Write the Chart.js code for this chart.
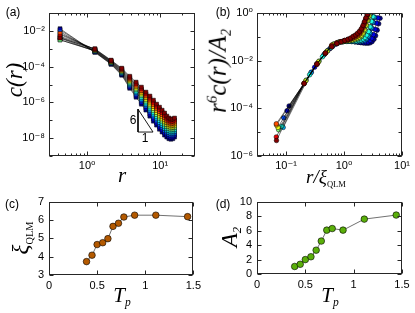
<!DOCTYPE html>
<html><head><meta charset="utf-8">
<script src="https://cdn.jsdelivr.net/npm/chart.js@4.4.1/dist/chart.umd.min.js"></script>
<style>
html,body{margin:0;padding:0;background:#fff;}
#wrap{position:relative;width:415px;height:313px;overflow:hidden;background:#fff;}
canvas{position:absolute;}
.t{position:absolute;white-space:nowrap;transform:translate(-50%,-50%);font-family:"Liberation Serif","DejaVu Serif",serif;font-style:italic;color:#000;line-height:1;}
.rot{transform:translate(-50%,-50%) rotate(-90deg);}
.p{position:absolute;white-space:nowrap;font-family:"Liberation Sans",Arial,sans-serif;font-size:12px;color:#000;transform:translate(-50%,-50%);line-height:1;}
.sb{font-size:0.55em;vertical-align:-0.35em;}
.sbq{font-size:0.45em;vertical-align:-0.45em;font-style:normal;}
.sp{font-size:0.6em;vertical-align:0.6em;}
</style></head><body>
<div id="wrap">
<canvas id="ca" width="205" height="190" style="left:0;top:0;width:205px;height:190px"></canvas>
<canvas id="cb" width="210" height="190" style="left:205px;top:0;width:210px;height:190px"></canvas>
<canvas id="cc" width="205" height="123" style="left:0;top:190px;width:205px;height:123px"></canvas>
<canvas id="cd" width="210" height="123" style="left:205px;top:190px;width:210px;height:123px"></canvas>
<div class="p" style="left:13px;top:12px">(a)</div>
<div class="p" style="left:223px;top:12px">(b)</div>
<div class="p" style="left:12px;top:204px">(c)</div>
<div class="p" style="left:223px;top:204px">(d)</div>
<div class="p" style="left:133px;top:120px">6</div>
<div class="p" style="left:145px;top:138px">1</div>
<div class="t rot" style="left:14px;top:80px;font-size:23px">c(r)</div>
<div class="t" style="left:122px;top:175px;font-size:21px">r</div>
<div class="t rot" style="left:219px;top:71px;font-size:25px">r<span class="sp">6</span>c(r)/A<span class="sb">2</span></div>
<div class="t" style="left:326px;top:178px;font-size:19px">r/ξ<span class="sbq">QLM</span></div>
<div class="t rot" style="left:22px;top:238px;font-size:23px">ξ<span class="sbq">QLM</span></div>
<div class="t rot" style="left:231px;top:237px;font-size:23px">A<span class="sb">2</span></div>
<div class="t" style="left:122px;top:297px;font-size:21px">T<span class="sb">p</span></div>
<div class="t" style="left:330px;top:297px;font-size:21px">T<span class="sb">p</span></div>
</div>
<script>
// ---------- data ----------
const r = [0.425, 1.275, 2.125, 2.975, 3.825, 4.675, 5.525, 6.375, 7.225, 8.075, 8.925, 9.775, 10.625, 11.475, 12.325, 13.175, 14.025, 14.875, 15.725];
const Tp = [0.39, 0.447, 0.50, 0.558, 0.612, 0.665, 0.722, 0.778, 0.89, 1.11, 1.44];
const xiQLM = [3.73, 4.08, 4.66, 4.76, 4.98, 5.65, 5.82, 6.16, 6.26, 6.26, 6.18];
const A2 = [1.04, 1.34, 1.99, 2.38, 3.29, 4.55, 6.06, 6.28, 6.06, 7.58, 8.14];

// panel (a): c(r) for each Tp
const c0 = [1.32e-2, 6.31e-4, 1.35e-4, 3.31e-5, 6.17e-6, 1.95e-6, 7.94e-7, 3.72e-7, 1.70e-7, 8.91e-8, 5.37e-8, 3.16e-8, 2.19e-8, 1.48e-8, 1.15e-8, 9.33e-9, 8.71e-9, 9.33e-9, 1.15e-8];
const c1 = [1.12e-2, 6.61e-4, 1.42e-4, 3.62e-5, 7.19e-6, 2.37e-6, 9.89e-7, 4.68e-7, 2.20e-7, 1.17e-7, 7.03e-8, 4.20e-8, 2.90e-8, 1.96e-8, 1.50e-8, 1.22e-8, 1.13e-8, 1.20e-8, 1.47e-8];
const c2 = [8.91e-3, 6.92e-4, 1.50e-4, 3.96e-5, 8.39e-6, 2.87e-6, 1.23e-6, 5.89e-7, 2.84e-7, 1.53e-7, 9.20e-8, 5.57e-8, 3.84e-8, 2.61e-8, 1.97e-8, 1.58e-8, 1.46e-8, 1.54e-8, 1.87e-8];
const c3 = [3.98e-3, 7.24e-4, 1.58e-4, 4.34e-5, 9.79e-6, 3.48e-6, 1.53e-6, 7.41e-7, 3.68e-7, 2.00e-7, 1.21e-7, 7.40e-8, 5.08e-8, 3.46e-8, 2.58e-8, 2.07e-8, 1.89e-8, 1.98e-8, 2.39e-8];
const c4 = [3.16e-3, 7.59e-4, 1.67e-4, 4.74e-5, 1.14e-5, 4.23e-6, 1.91e-6, 9.33e-7, 4.76e-7, 2.62e-7, 1.58e-7, 9.82e-8, 6.73e-8, 4.59e-8, 3.37e-8, 2.69e-8, 2.44e-8, 2.55e-8, 3.05e-8];
const c5 = [3.16e-3, 7.94e-4, 1.76e-4, 5.19e-5, 1.33e-5, 5.13e-6, 2.37e-6, 1.17e-6, 6.17e-7, 3.43e-7, 2.07e-7, 1.30e-7, 8.91e-8, 6.10e-8, 4.42e-8, 3.51e-8, 3.16e-8, 3.27e-8, 3.89e-8];
const c6 = [4.47e-3, 8.32e-4, 1.85e-4, 5.68e-5, 1.56e-5, 6.22e-6, 2.95e-6, 1.48e-6, 7.98e-7, 4.49e-7, 2.70e-7, 1.73e-7, 1.18e-7, 8.09e-8, 5.78e-8, 4.57e-8, 4.09e-8, 4.21e-8, 4.97e-8];
const c7 = [6.31e-3, 8.71e-4, 1.95e-4, 6.21e-5, 1.82e-5, 7.55e-6, 3.67e-6, 1.86e-6, 1.03e-6, 5.87e-7, 3.54e-7, 2.30e-7, 1.56e-7, 1.07e-7, 7.57e-8, 5.96e-8, 5.30e-8, 5.41e-8, 6.34e-8];
const c8 = [7.08e-3, 9.12e-4, 2.06e-4, 6.79e-5, 2.12e-5, 9.16e-6, 4.57e-6, 2.34e-6, 1.34e-6, 7.69e-7, 4.63e-7, 3.05e-7, 2.07e-7, 1.43e-7, 9.91e-8, 7.76e-8, 6.85e-8, 6.95e-8, 8.09e-8];
const c9 = [5.01e-3, 9.55e-4, 2.17e-4, 7.43e-5, 2.47e-5, 1.11e-5, 5.69e-6, 2.95e-6, 1.73e-6, 1.01e-6, 6.07e-7, 4.05e-7, 2.74e-7, 1.89e-7, 1.30e-7, 1.01e-7, 8.87e-8, 8.93e-8, 1.03e-7];
const c10 = [3.98e-3, 1.00e-3, 2.29e-4, 8.13e-5, 2.88e-5, 1.35e-5, 7.08e-6, 3.72e-6, 2.24e-6, 1.32e-6, 7.94e-7, 5.37e-7, 3.63e-7, 2.51e-7, 1.70e-7, 1.32e-7, 1.15e-7, 1.15e-7, 1.32e-7];

// slope-6 guide triangle in panel (a), data units (r, c)
const slopeTriR = [4.97, 4.97, 7.98, 4.97];
const slopeTriC = [4.17e-7, 2.19e-8, 2.19e-8, 4.17e-7];

// panel (b): x = r / xi_QLM for each xi
const xb0 = [0.113, 0.340, 0.567, 0.793, 1.02, 1.25, 1.47, 1.70, 1.93, 2.15, 2.38, 2.61, 2.83, 3.06, 3.29, 3.51, 3.74, 3.97, 4.19];
const xb1 = [0.104, 0.311, 0.518, 0.726, 0.933, 1.14, 1.35, 1.56, 1.76, 1.97, 2.18, 2.38, 2.59, 2.80, 3.01, 3.21, 3.42, 3.63, 3.84];
const xb2 = [0.0914, 0.274, 0.457, 0.640, 0.823, 1.01, 1.19, 1.37, 1.55, 1.74, 1.92, 2.10, 2.29, 2.47, 2.65, 2.83, 3.02, 3.20, 3.38];
const xb3 = [0.0895, 0.268, 0.447, 0.626, 0.805, 0.984, 1.16, 1.34, 1.52, 1.70, 1.88, 2.06, 2.24, 2.42, 2.60, 2.77, 2.95, 3.13, 3.31];
const xb4 = [0.085, 0.255, 0.425, 0.595, 0.765, 0.935, 1.11, 1.28, 1.45, 1.62, 1.79, 1.96, 2.13, 2.30, 2.47, 2.64, 2.81, 2.98, 3.15];
const xb5 = [0.0746, 0.224, 0.373, 0.522, 0.671, 0.820, 0.969, 1.12, 1.27, 1.42, 1.57, 1.72, 1.86, 2.01, 2.16, 2.31, 2.46, 2.61, 2.76];
const xb6 = [0.0727, 0.218, 0.363, 0.509, 0.654, 0.799, 0.944, 1.09, 1.24, 1.38, 1.53, 1.67, 1.82, 1.96, 2.11, 2.25, 2.40, 2.54, 2.69];
const xb7 = [0.0685, 0.206, 0.343, 0.480, 0.617, 0.754, 0.891, 1.03, 1.17, 1.30, 1.44, 1.58, 1.71, 1.85, 1.99, 2.13, 2.26, 2.40, 2.54];
const xb8 = [0.068, 0.204, 0.340, 0.476, 0.612, 0.748, 0.884, 1.02, 1.16, 1.29, 1.43, 1.56, 1.70, 1.84, 1.97, 2.11, 2.24, 2.38, 2.52];

// panel (b): y = r^6 c(r) / A2
const yb0 = [1.26e-4, 7.14e-3, 3.14e-2, 5.61e-2, 6.76e-2, 6.92e-2, 6.61e-2, 6.17e-2, 5.75e-2, 5.50e-2, 5.37e-2, 5.37e-2, 5.62e-2, 6.31e-2, 7.94e-2, 1.12e-1, 1.91e-1, 3.55e-1, 6.03e-1];
const yb1 = [7.94e-5, 5.28e-3, 2.58e-2, 4.91e-2, 6.38e-2, 6.73e-2, 6.56e-2, 6.25e-2, 5.94e-2, 5.77e-2, 5.74e-2, 5.82e-2, 6.17e-2, 6.97e-2, 8.79e-2, 1.24e-1, 2.07e-1, 3.76e-1, 6.27e-1];
const yb2 = [3.98e-5, 3.32e-3, 1.82e-2, 4.06e-2, 6.03e-2, 6.53e-2, 6.52e-2, 6.34e-2, 6.14e-2, 6.05e-2, 6.14e-2, 6.31e-2, 6.76e-2, 7.69e-2, 9.72e-2, 1.37e-1, 2.25e-1, 3.98e-1, 6.52e-1];
const yb3 = [1.58e-5, 3.07e-3, 1.71e-2, 3.92e-2, 5.69e-2, 6.35e-2, 6.47e-2, 6.43e-2, 6.34e-2, 6.35e-2, 6.56e-2, 6.84e-2, 7.41e-2, 8.49e-2, 1.08e-1, 1.51e-1, 2.44e-1, 4.22e-1, 6.78e-1];
const yb4 = [1.78e-5, 2.54e-3, 1.46e-2, 3.50e-2, 5.37e-2, 6.17e-2, 6.43e-2, 6.52e-2, 6.55e-2, 6.67e-2, 7.01e-2, 7.41e-2, 8.13e-2, 9.38e-2, 1.19e-1, 1.67e-1, 2.65e-1, 4.47e-1, 7.05e-1];
const yb5 = [1.26e-5, 1.54e-3, 9.68e-3, 2.62e-2, 5.07e-2, 6.00e-2, 6.38e-2, 6.61e-2, 6.76e-2, 7.00e-2, 7.50e-2, 8.04e-2, 8.91e-2, 1.04e-1, 1.32e-1, 1.84e-1, 2.88e-1, 4.73e-1, 7.33e-1];
const yb6 = [1.58e-5, 1.40e-3, 8.89e-3, 2.48e-2, 4.79e-2, 5.83e-2, 6.34e-2, 6.70e-2, 6.98e-2, 7.35e-2, 8.02e-2, 8.71e-2, 9.77e-2, 1.14e-1, 1.46e-1, 2.03e-1, 3.13e-1, 5.01e-1, 7.62e-1];
const yb7 = [2.00e-5, 1.12e-3, 7.33e-3, 2.10e-2, 4.52e-2, 5.66e-2, 6.30e-2, 6.79e-2, 7.21e-2, 7.71e-2, 8.57e-2, 9.44e-2, 1.07e-1, 1.26e-1, 1.61e-1, 2.24e-1, 3.40e-1, 5.31e-1, 7.93e-1];
const yb8 = [2.24e-5, 1.09e-3, 7.14e-3, 2.06e-2, 4.27e-2, 5.51e-2, 6.25e-2, 6.89e-2, 7.45e-2, 8.09e-2, 9.16e-2, 1.02e-1, 1.17e-1, 1.39e-1, 1.79e-1, 2.48e-1, 3.70e-1, 5.62e-1, 8.24e-1];
const yb9 = [6.31e-6, 1.09e-3, 7.14e-3, 2.06e-2, 4.03e-2, 5.35e-2, 6.21e-2, 6.98e-2, 7.69e-2, 8.49e-2, 9.79e-2, 1.11e-1, 1.29e-1, 1.54e-1, 1.98e-1, 2.74e-1, 4.02e-1, 5.96e-1, 8.57e-1];
const yb10 = [4.47e-6, 1.12e-3, 7.33e-3, 2.10e-2, 3.80e-2, 5.20e-2, 6.17e-2, 7.08e-2, 7.94e-2, 8.91e-2, 1.05e-1, 1.20e-1, 1.41e-1, 1.70e-1, 2.19e-1, 3.02e-1, 4.37e-1, 6.31e-1, 8.91e-1];

// tick labels
const ticksXa = [1, 10];
const ticksYa = [1e-8, 1e-6, 1e-4, 1e-2];
const ticksXb = [0.1, 1, 10];
const ticksYb = [1e-6, 1e-4, 1e-2, 1];
const ticksTp = [0, 0.5, 1, 1.5];
const ticksXi = [3, 4, 5, 6, 7];
const ticksA2 = [0, 2, 4, 6, 8, 10];

// ---------- styling / assembly ----------
const cSeries = [c0, c1, c2, c3, c4, c5, c6, c7, c8, c9, c10];
const xbSeries = [xb0, xb1, xb2, xb3, xb4, xb5, xb6, xb7, xb8, xb8, xb7];
const ybSeries = [yb0, yb1, yb2, yb3, yb4, yb5, yb6, yb7, yb8, yb9, yb10];
const jet = ['rgb(0,0,143)','rgb(0,0,230)','rgb(0,77,255)','rgb(0,179,255)','rgb(26,255,230)','rgb(128,255,128)','rgb(230,255,26)','rgb(255,179,0)','rgb(255,77,0)','rgb(230,0,0)','rgb(128,0,0)'];

const SUP = {'-':'\u207B','0':'\u2070','1':'\u00B9','2':'\u00B2','3':'\u00B3','4':'\u2074','5':'\u2075','6':'\u2076','7':'\u2077','8':'\u2078','9':'\u2079'};
function powLabel(v){ const e = Math.round(Math.log10(v)); return '10' + String(e).split('').map(ch => SUP[ch]).join(''); }

const tickFont = {family:'"Liberation Sans", Arial, "DejaVu Sans", sans-serif', size:11};

function logAxis(min, max, ticks, fitKey, fitVal, pad){
  return {
    type:'logarithmic', min:min, max:max,
    afterBuildTicks: s => { s.ticks = ticks.map(v => ({value:v})); },
    afterFit: s => { s[fitKey] = fitVal; },
    ticks:{callback: v => powLabel(v), font:tickFont, color:'#000', padding:pad, autoSkip:false, maxRotation:0, minRotation:0},
    grid:{display:false, drawTicks:false}, border:{display:false}
  };
}
function linAxis(min, max, ticks, fitKey, fitVal, pad){
  return {
    type:'linear', min:min, max:max,
    afterBuildTicks: s => { s.ticks = ticks.map(v => ({value:v})); },
    afterFit: s => { s[fitKey] = fitVal; },
    ticks:{callback: v => String(v), font:tickFont, color:'#000', padding:pad, autoSkip:false, maxRotation:0, minRotation:0},
    grid:{display:false, drawTicks:false}, border:{display:false}
  };
}

const frame = {
  id:'frame',
  afterDatasetsDraw(chart){
    const {ctx, chartArea:a, scales} = chart;
    const L = Math.round(a.left)+0.5, R = Math.round(a.right)-0.5, T = Math.round(a.top)+0.5, B = Math.round(a.bottom)-0.5;
    ctx.save();
    ctx.strokeStyle = '#262626'; ctx.lineWidth = 1;
    ctx.beginPath();
    const xs = scales.x, ys = scales.y;
    function tickX(v, len){ const p = Math.round(xs.getPixelForValue(v))+0.5; ctx.moveTo(p,B); ctx.lineTo(p,B-len); ctx.moveTo(p,T); ctx.lineTo(p,T+len); }
    function tickY(v, len){ const p = Math.round(ys.getPixelForValue(v))+0.5; ctx.moveTo(L,p); ctx.lineTo(L+len,p); ctx.moveTo(R,p); ctx.lineTo(R-len,p); }
    xs.ticks.forEach(t => tickX(t.value, 4));
    ys.ticks.forEach(t => tickY(t.value, 4));
    if (xs.type === 'logarithmic'){
      for (let d = Math.floor(Math.log10(xs.min)); d <= Math.ceil(Math.log10(xs.max)); d++){
        for (let m = 2; m <= 9; m++){ const v = m*Math.pow(10,d); if (v > xs.min && v < xs.max) tickX(v, 2); }
      }
    }
    if (ys.type === 'logarithmic'){
      for (let d = Math.ceil(Math.log10(ys.min)); d <= Math.floor(Math.log10(ys.max)); d++){
        const v = Math.pow(10,d); tickY(v, 3);
      }
    }
    ctx.stroke();
    ctx.strokeRect(L, T, R-L, B-T);
    ctx.restore();
  }
};

Chart.defaults.animation = false;
const basePlugins = {legend:{display:false}, tooltip:{enabled:false}};

// (a)
const dsA = cSeries.map((cs, i) => ({
  data: r.map((x, k) => ({x:x, y:cs[k]})),
  showLine:true, borderColor:'rgba(0,0,0,0.9)', borderWidth:0.6,
  pointStyle:'rect', pointRadius:2.8, pointBackgroundColor:jet[i], pointBorderColor:'#000', pointBorderWidth:0.5,
  order: 10 - i
}));
dsA.push({
  data: slopeTriR.map((x, k) => ({x:x, y:slopeTriC[k]})),
  showLine:true, borderColor:'#000', borderWidth:0.9, pointRadius:0, order:-1
});
new Chart(document.getElementById('ca'), {
  type:'scatter',
  data:{datasets: dsA},
  options:{
    responsive:false, animation:false,
    layout:{padding:{left:0, right:10, top:13, bottom:0}},
    scales:{ x: logAxis(0.3, 30, ticksXa, 'height', 34, 3), y: logAxis(1e-9, 1e-1, ticksYa, 'width', 49, 4) },
    plugins: basePlugins
  },
  plugins:[frame]
});

// (b)
new Chart(document.getElementById('cb'), {
  type:'scatter',
  data:{datasets: ybSeries.map((ys, i) => ({
    data: xbSeries[i].map((x, k) => ({x:x, y:ys[k]})),
    showLine:true, borderColor:'rgba(0,0,0,0.9)', borderWidth:0.6,
    pointStyle:'circle', pointRadius:2.3, pointBackgroundColor:jet[i], pointBorderColor:'#000', pointBorderWidth:0.5,
    order: 10 - i
  }))},
  options:{
    responsive:false, animation:false,
    layout:{padding:{left:0, right:13, top:13, bottom:0}},
    scales:{ x: logAxis(Math.pow(10,-1.5), 10, ticksXb, 'height', 34, 3), y: logAxis(1e-6, 1, ticksYb, 'width', 52, 4) },
    plugins: basePlugins
  },
  plugins:[frame]
});

// (c)
new Chart(document.getElementById('cc'), {
  type:'scatter',
  data:{datasets:[{
    data: Tp.map((t, k) => ({x:t, y:xiQLM[k]})),
    showLine:true, borderColor:'#4d4d4d', borderWidth:0.8,
    pointStyle:'circle', pointRadius:3.3, pointBackgroundColor:'rgb(179,89,0)', pointBorderColor:'#000', pointBorderWidth:0.6
  }]},
  options:{
    responsive:false, animation:false,
    layout:{padding:{left:0, right:9, top:7, bottom:0}},
    scales:{ x: linAxis(0, 1.5, ticksTp, 'height', 38, 4), y: linAxis(3, 7, ticksXi, 'width', 49, 5) },
    plugins: basePlugins
  },
  plugins:[frame]
});

// (d)
new Chart(document.getElementById('cd'), {
  type:'scatter',
  data:{datasets:[{
    data: Tp.map((t, k) => ({x:t, y:A2[k]})),
    showLine:true, borderColor:'#4d4d4d', borderWidth:0.8,
    pointStyle:'circle', pointRadius:3.3, pointBackgroundColor:'rgb(90,175,10)', pointBorderColor:'#000', pointBorderWidth:0.6
  }]},
  options:{
    responsive:false, animation:false,
    layout:{padding:{left:0, right:13, top:7, bottom:0}},
    scales:{ x: linAxis(0, 1.5, ticksTp, 'height', 39, 4), y: linAxis(0, 10, ticksA2, 'width', 52, 5) },
    plugins: basePlugins
  },
  plugins:[frame]
});
</script>
</body></html>
